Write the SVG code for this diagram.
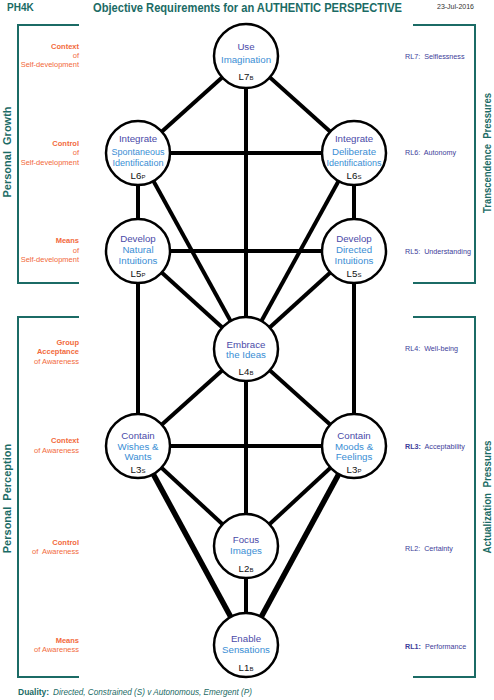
<svg xmlns="http://www.w3.org/2000/svg" width="494" height="700" viewBox="0 0 494 700">
<style>
  text { font-family: "Liberation Sans", Arial, sans-serif; }
  .teal { fill: #1b6b65; }
  .hdr { font-weight: bold; }
  .side { font-size: 11px; font-weight: bold; fill: #1b6b65; text-anchor: middle; }
  .br { fill: none; stroke: #1b6b65; stroke-width: 2; }
  .ll { font-size: 7.5px; fill: #f26a3c; text-anchor: end; }
  .llb { font-weight: bold; }
  .rl { font-size: 7.2px; fill: #3d3d99; }
  .edge { stroke: #000; stroke-width: 4; fill: none; }
  .thick { stroke-width: 5.5; }
  .node circle { fill: #fff; stroke: #000; stroke-width: 2.5; }
  .node text { font-size: 9.7px; text-anchor: middle; }
  .v { fill: #4a4aa8; }
  .o { fill: #3a8ed4; }
  .lab { font-size: 8.5px; fill: #111; }
  .sc { font-size: 6px; }
</style>

<!-- header -->
<text class="teal hdr" x="7" y="10.5" font-size="10">PH4K</text>
<text class="teal hdr" x="93" y="11.5" font-size="12.5" textLength="309" lengthAdjust="spacingAndGlyphs">Objective Requirements for an AUTHENTIC PERSPECTIVE</text>
<text x="437" y="8.5" font-size="6.8" fill="#333" textLength="37" lengthAdjust="spacingAndGlyphs">23-Jul-2016</text>

<!-- brackets -->
<g id="brackets">
  <polyline class="br" points="79,25 18,25 18,283 79,283"/>
  <polyline class="br" points="79,317 18,317 18,677 79,677"/>
  <polyline class="br" points="413,25 475,25 475,283 413,283"/>
  <polyline class="br" points="413,317 475,317 475,677 413,677"/>
  <text class="side" transform="translate(11,152) rotate(-90)">Personal&#160; Growth</text>
  <text class="side" transform="translate(11,498.5) rotate(-90)">Personal&#160; Perception</text>
  <text class="side" transform="translate(491,153) rotate(-90)" textLength="120" lengthAdjust="spacingAndGlyphs">Transcendence&#160; Pressures</text>
  <text class="side" transform="translate(491,497) rotate(-90)" textLength="113" lengthAdjust="spacingAndGlyphs">Actualization&#160; Pressures</text>
</g>

<!-- left labels -->
<g id="left-labels">
  <text class="ll"><tspan class="llb" x="79" y="49.4">Context</tspan><tspan x="79" y="57.7">of</tspan><tspan x="79" y="66.7">Self-development</tspan></text>
  <text class="ll"><tspan class="llb" x="79" y="145.7">Control</tspan><tspan x="79" y="155.2">of</tspan><tspan x="79" y="164.7">Self-development</tspan></text>
  <text class="ll"><tspan class="llb" x="79" y="243.4">Means</tspan><tspan x="79" y="252.7">of</tspan><tspan x="79" y="261.7">Self-development</tspan></text>
  <text class="ll"><tspan class="llb" x="79" y="344.7">Group</tspan><tspan class="llb" x="79" y="354.2">Acceptance</tspan><tspan x="79" y="363.7">of Awareness</tspan></text>
  <text class="ll"><tspan class="llb" x="79" y="443.4">Context</tspan><tspan x="79" y="452.7">of Awareness</tspan></text>
  <text class="ll"><tspan class="llb" x="79" y="544.7">Control</tspan><tspan x="79" y="554.2">of&#160; Awareness</tspan></text>
  <text class="ll"><tspan class="llb" x="79" y="642.7">Means</tspan><tspan x="79" y="652">of Awareness</tspan></text>
</g>

<!-- right labels -->
<g id="right-labels">
  <text class="rl" x="405" y="59.3">RL7:&#160; Selflessness</text>
  <text class="rl" x="405" y="155.3">RL6:&#160; Autonomy</text>
  <text class="rl" x="405" y="254.3">RL5:&#160; Understanding</text>
  <text class="rl" x="405" y="350.6">RL4:&#160; Well-being</text>
  <text class="rl" x="405" y="449.3"><tspan font-weight="bold">RL3:</tspan>&#160; Acceptability</text>
  <text class="rl" x="405" y="550.6">RL2:&#160; Certainty</text>
  <text class="rl" x="405" y="649.3"><tspan font-weight="bold">RL1:</tspan>&#160; Performance</text>
</g>

<!-- connectors -->
<g id="connectors">
  <line class="edge" x1="246" y1="56" x2="138" y2="153"/>
  <line class="edge" x1="246" y1="56" x2="354" y2="153"/>
  <line class="edge" x1="246" y1="56" x2="246" y2="349"/>
  <line class="edge" x1="138" y1="153" x2="354" y2="153"/>
  <line class="edge" x1="138" y1="153" x2="138" y2="251"/>
  <line class="edge" x1="354" y1="153" x2="354" y2="251"/>
  <line class="edge" x1="138" y1="153" x2="246" y2="349"/>
  <line class="edge" x1="354" y1="153" x2="246" y2="349"/>
  <line class="edge" x1="138" y1="251" x2="354" y2="251"/>
  <line class="edge" x1="138" y1="251" x2="246" y2="349"/>
  <line class="edge" x1="354" y1="251" x2="246" y2="349"/>
  <line class="edge" x1="138" y1="251" x2="138" y2="446"/>
  <line class="edge" x1="354" y1="251" x2="354" y2="446"/>
  <line class="edge" x1="246" y1="349" x2="138" y2="446"/>
  <line class="edge" x1="246" y1="349" x2="354" y2="446"/>
  <line class="edge" x1="246" y1="349" x2="246" y2="546"/>
  <line class="edge" x1="138" y1="446" x2="354" y2="446"/>
  <line class="edge" x1="138" y1="446" x2="246" y2="546"/>
  <line class="edge" x1="354" y1="446" x2="246" y2="546"/>
  <line class="edge thick" x1="138" y1="446" x2="246" y2="645"/>
  <line class="edge thick" x1="354" y1="446" x2="246" y2="645"/>
  <line class="edge" x1="246" y1="546" x2="246" y2="645"/>
</g>

<!-- nodes -->
<g id="L7B" class="node">
  <circle cx="246" cy="56" r="32"/>
  <text class="v" x="246" y="50">Use</text>
  <text class="o" x="246" y="62.5">Imagination</text>
  <text class="lab" x="246" y="79.5">L7<tspan class="sc">B</tspan></text>
</g>
<g id="L6P" class="node">
  <circle cx="138" cy="153" r="32"/>
  <text class="v" x="138" y="142">Integrate</text>
  <text class="o" x="138" y="154.5" textLength="53" lengthAdjust="spacingAndGlyphs">Spontaneous</text>
  <text class="o" x="138" y="165.5" textLength="51" lengthAdjust="spacingAndGlyphs">Identification</text>
  <text class="lab" x="138" y="179">L6<tspan class="sc">P</tspan></text>
</g>
<g id="L6S" class="node">
  <circle cx="354" cy="153" r="32"/>
  <text class="v" x="354" y="142">Integrate</text>
  <text class="o" x="354" y="154.5">Deliberate</text>
  <text class="o" x="354" y="165.5" textLength="55" lengthAdjust="spacingAndGlyphs">Identifications</text>
  <text class="lab" x="354" y="179">L6<tspan class="sc">S</tspan></text>
</g>
<g id="L5P" class="node">
  <circle cx="138" cy="251" r="32"/>
  <text class="v" x="138" y="242">Develop</text>
  <text class="o" x="138" y="253">Natural</text>
  <text class="o" x="138" y="264">Intuitions</text>
  <text class="lab" x="138" y="277">L5<tspan class="sc">P</tspan></text>
</g>
<g id="L5S" class="node">
  <circle cx="354" cy="251" r="32"/>
  <text class="v" x="354" y="242">Develop</text>
  <text class="o" x="354" y="253">Directed</text>
  <text class="o" x="354" y="264">Intuitions</text>
  <text class="lab" x="354" y="277">L5<tspan class="sc">S</tspan></text>
</g>
<g id="L4B" class="node">
  <circle cx="246" cy="349" r="32"/>
  <text class="v" x="246" y="347.5">Embrace</text>
  <text class="o" x="246" y="358">the Ideas</text>
  <text class="lab" x="246" y="375">L4<tspan class="sc">B</tspan></text>
</g>
<g id="L3S" class="node">
  <circle cx="138" cy="446" r="32"/>
  <text class="v" x="138" y="438.5">Contain</text>
  <text class="o" x="138" y="449.5">Wishes &amp;</text>
  <text class="o" x="138" y="460">Wants</text>
  <text class="lab" x="138" y="472.5">L3<tspan class="sc">S</tspan></text>
</g>
<g id="L3P" class="node">
  <circle cx="354" cy="446" r="32"/>
  <text class="v" x="354" y="438.5">Contain</text>
  <text class="o" x="354" y="449.5">Moods &amp;</text>
  <text class="o" x="354" y="460">Feelings</text>
  <text class="lab" x="354" y="472.5">L3<tspan class="sc">P</tspan></text>
</g>
<g id="L2B" class="node">
  <circle cx="246" cy="546" r="32"/>
  <text class="v" x="246" y="542.5">Focus</text>
  <text class="o" x="246" y="553.5">Images</text>
  <text class="lab" x="246" y="572">L2<tspan class="sc">B</tspan></text>
</g>
<g id="L1B" class="node">
  <circle cx="246" cy="645" r="32"/>
  <text class="v" x="246" y="641.5">Enable</text>
  <text class="o" x="246" y="652.5">Sensations</text>
  <text class="lab" x="246" y="671">L1<tspan class="sc">B</tspan></text>
</g>

<!-- footer -->
<text class="teal" x="18" y="695" font-size="8.5"><tspan font-weight="bold">Duality:</tspan></text>
<text class="teal" x="53" y="695" font-size="8.5" font-style="italic" textLength="199" lengthAdjust="spacingAndGlyphs">Directed, Constrained (S) v Autonomous, Emergent (P)</text>
</svg>
